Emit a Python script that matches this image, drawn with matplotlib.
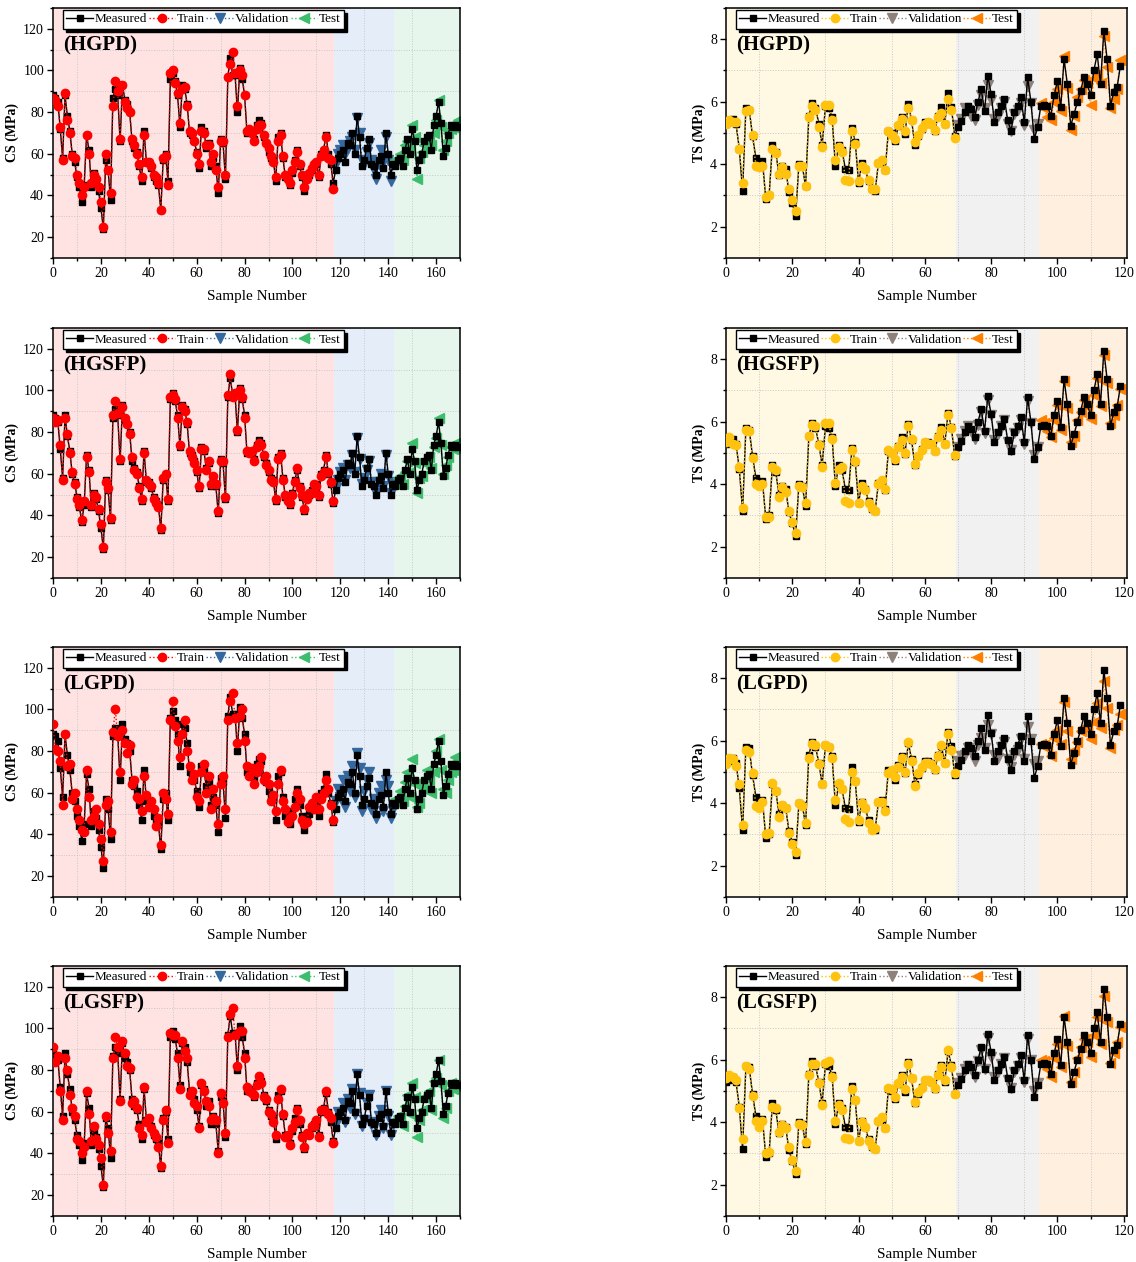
import matplotlib
matplotlib.use("Agg")
import matplotlib.pyplot as plt
from matplotlib.ticker import MultipleLocator
import numpy as np

plt.rcParams['font.family'] = ['Liberation Serif', 'DejaVu Serif']

# ---------------- CS data (170 samples: 118 train / 25 val / 27 test) ----------------
cs_measured = [
    88, 87, 85, 72, 58, 88, 78, 71, 60, 56,
    49, 44, 37, 45, 69, 62, 44, 51, 48, 42,
    34, 24, 57, 52, 38, 87, 91, 88, 66, 93,
    86, 84, 80, 66, 63, 61, 54, 47, 71, 56,
    56, 53, 49, 47, 45, 33, 57, 60, 47, 96,
    99, 95, 88, 73, 93, 91, 84, 70, 69, 66,
    61, 53, 73, 71, 63, 65, 54, 58, 54, 41,
    67, 65, 48, 97, 106, 98, 98, 80, 101, 96,
    88, 70, 71, 70, 67, 74, 76, 75, 68, 65,
    61, 58, 57, 47, 68, 70, 58, 49, 48, 45,
    51, 57, 62, 54, 49, 42, 49, 50, 52, 54,
    55, 49, 60, 62, 69, 60, 55, 46,
    52, 58, 60, 62, 56, 65, 64, 70, 60, 78,
    68, 54, 57, 63, 67, 55, 54, 50, 57, 59,
    53, 70, 60, 50, 55,
    54, 57, 58, 54, 62, 67, 60, 72, 66, 52,
    57, 60, 66, 68, 69, 62, 74, 78, 85, 75,
    59, 63, 69, 74, 73, 74, 73,
]
cs_n_train = 118
cs_n_val = 25

cs_hgpd = [
    87, 86, 83, 73, 57, 89, 76, 70, 59, 58,
    50, 46, 40, 44, 69, 60, 46, 50, 48, 44,
    37, 25, 60, 52, 41, 83, 95, 90, 67, 93,
    85, 82, 80, 67, 64, 60, 55, 49, 69, 56,
    56, 54, 50, 49, 46, 33, 58, 59, 45, 99,
    100, 94, 89, 75, 91, 92, 83, 71, 70, 66,
    60, 55, 71, 70, 64, 64, 56, 60, 52, 44,
    66, 66, 50, 97, 103, 109, 99, 83, 100, 98,
    88, 71, 72, 70, 66, 72, 74, 74, 69, 65,
    63, 59, 56, 49, 66, 69, 59, 50, 48, 46,
    52, 56, 61, 55, 50, 44, 48, 51, 53, 55,
    56, 50, 59, 62, 68, 58, 57, 43,
    55, 60, 62, 64, 60, 63, 66, 68, 62, 77,
    70, 57, 55, 61, 65, 57, 52, 48, 55, 62,
    56, 68, 57, 47, 55,
    57, 58, 60, 57, 64, 66, 62, 74, 68, 48,
    58, 61, 64, 66, 67, 64, 70, 76, 86, 73,
    62, 66, 70, 72, 73, 74, 76,
]
cs_hgsfp = [
    87, 85, 86, 74, 57, 87, 79, 70, 61, 55,
    48, 45, 38, 47, 68, 61, 45, 50, 49, 43,
    36, 25, 56, 53, 39, 88, 95, 89, 67, 92,
    87, 84, 79, 68, 62, 60, 53, 48, 70, 57,
    55, 54, 48, 46, 44, 34, 58, 60, 48, 97,
    98, 96, 87, 74, 92, 90, 85, 71, 68, 65,
    62, 54, 72, 72, 62, 66, 55, 59, 55, 42,
    66, 66, 49, 98, 108, 97, 99, 81, 100, 97,
    87, 71, 70, 71, 66, 73, 75, 74, 69, 64,
    62, 57, 56, 48, 67, 69, 57, 50, 47, 46,
    50, 56, 63, 53, 50, 43, 48, 51, 51, 55,
    54, 50, 59, 61, 68, 61, 56, 47,
    53, 57, 61, 63, 57, 64, 63, 69, 61, 77,
    67, 55, 58, 62, 66, 56, 53, 51, 56, 60,
    54, 69, 59, 51, 56,
    55, 58, 59, 55, 61, 66, 61, 75, 65, 51,
    58, 59, 65, 67, 68, 63, 73, 77, 87, 74,
    60, 64, 68, 73, 72, 75, 72,
]
cs_lgpd = [
    93, 81, 80, 75, 54, 88, 73, 74, 57, 60,
    52, 47, 42, 41, 71, 58, 47, 49, 52, 45,
    38, 27, 54, 56, 41, 89, 100, 87, 70, 90,
    84, 79, 83, 64, 66, 58, 57, 51, 68, 59,
    53, 56, 52, 44, 48, 35, 60, 57, 50, 95,
    104, 92, 85, 77, 88, 95, 80, 73, 66, 69,
    58, 56, 70, 74, 60, 68, 52, 62, 56, 45,
    64, 68, 52, 95, 104, 108, 96, 84, 97, 100,
    85, 73, 68, 72, 64, 70, 73, 77, 66, 68,
    64, 56, 59, 51, 64, 71, 56, 52, 46, 48,
    49, 53, 60, 57, 47, 45, 46, 53, 55, 52,
    58, 52, 57, 60, 66, 62, 54, 47,
    56, 62, 58, 66, 53, 68, 61, 73, 58, 79,
    72, 51, 61, 66, 70, 52, 57, 48, 60, 63,
    51, 66, 63, 48, 52,
    57, 55, 61, 56, 65, 70, 58, 76, 64, 53,
    55, 63, 62, 71, 66, 60, 70, 80, 86, 71,
    62, 60, 66, 70, 71, 77, 75,
]
cs_lgsfp = [
    91, 84, 87, 70, 56, 86, 80, 68, 62, 58,
    47, 46, 40, 43, 70, 59, 46, 53, 47, 44,
    38, 25, 58, 50, 41, 86, 96, 91, 65, 94,
    88, 82, 81, 64, 65, 62, 52, 49, 72, 55,
    57, 52, 50, 48, 43, 34, 56, 61, 45, 98,
    97, 97, 86, 71, 94, 89, 86, 68, 70, 64,
    63, 52, 74, 70, 65, 63, 56, 57, 56, 40,
    69, 64, 50, 96, 107, 110, 97, 82, 99, 99,
    86, 72, 70, 69, 68, 73, 77, 74, 67, 66,
    60, 59, 55, 49, 66, 71, 59, 48, 49, 44,
    52, 55, 61, 56, 48, 43, 50, 49, 53, 53,
    56, 48, 61, 61, 70, 59, 57, 45,
    54, 60, 59, 64, 55, 66, 62, 71, 59, 78,
    69, 53, 56, 64, 68, 54, 55, 49, 58, 61,
    52, 70, 58, 49, 54,
    56, 58, 57, 53, 63, 68, 59, 74, 67, 48,
    56, 61, 67, 66, 70, 61, 75, 76, 85, 73,
    57, 62, 70, 74, 71, 73, 72,
]

# ---------------- TS data (120 samples: 70 train / 25 val / 25 test) ----------------
ts_measured = [
    5.30, 5.35, 5.45, 5.30, 4.50, 3.15, 5.80, 5.75, 4.90, 4.20,
    4.05, 4.10, 2.90, 3.00, 4.60, 4.40, 3.65, 3.95, 3.85, 3.10,
    2.75, 2.35, 4.00, 3.95, 3.30, 5.55, 5.95, 5.80, 5.30, 4.60,
    5.85, 5.80, 5.50, 3.95, 4.60, 4.45, 3.85, 3.80, 5.15, 4.70,
    3.40, 4.05, 3.85, 3.45, 3.20, 3.15, 4.05, 4.10, 3.80, 5.07,
    5.00, 4.75, 5.23, 5.50, 4.97, 5.93, 5.40, 4.60, 4.90, 5.13,
    5.34, 5.34, 5.29, 5.07, 5.55, 5.82, 5.29, 6.28, 5.82, 4.90,
    5.18, 5.39, 5.66, 5.87, 5.77, 5.50, 5.98, 6.40, 5.70, 6.83,
    6.24, 5.34, 5.66, 5.87, 6.10, 5.40, 5.07, 5.66, 5.87, 6.14,
    5.34, 6.78, 6.00, 4.80, 5.18,
    5.87, 5.90, 5.87, 5.55, 6.20, 6.67, 5.82, 7.36, 6.56, 5.23,
    5.60, 5.98, 6.35, 6.78, 6.56, 6.20, 7.00, 7.52, 6.56, 8.27,
    7.36, 5.87, 6.30, 6.46, 7.15,
]
ts_n_train = 70
ts_n_val = 25

ts_hgpd = [
    5.28, 5.40, 5.35, 5.35, 4.50, 3.40, 5.70, 5.72, 4.95, 3.95,
    3.90, 3.95, 2.95, 3.00, 4.50, 4.35, 3.70, 3.90, 3.70, 3.20,
    2.85, 2.50, 3.95, 3.95, 3.30, 5.50, 5.85, 5.75, 5.20, 4.55,
    5.90, 5.90, 5.40, 4.15, 4.55, 4.40, 3.50, 3.45, 5.05, 4.65,
    3.45, 3.95, 3.85, 3.50, 3.20, 3.20, 4.05, 4.15, 3.80, 5.05,
    4.95, 4.80, 5.25, 5.45, 5.05, 5.80, 5.40, 4.70, 4.95, 5.15,
    5.30, 5.35, 5.30, 5.10, 5.50, 5.65, 5.30, 6.10, 5.75, 4.85,
    5.25, 5.45, 5.80, 5.75, 5.55, 5.40, 5.90, 6.20, 5.80, 6.55,
    6.05, 5.45, 5.55, 5.80, 6.00, 5.30, 5.05, 5.60, 5.75, 5.95,
    5.25, 6.50, 5.95, 5.10, 5.30,
    5.95, 5.80, 5.50, 5.40, 6.00, 6.40, 5.70, 7.45, 6.45, 5.10,
    5.55, 6.15, 6.40, 6.70, 6.60, 5.90, 6.75, 6.90, 6.60, 8.10,
    7.10, 5.80, 6.10, 6.40, 7.35,
]
ts_hgsfp = [
    5.35, 5.50, 5.30, 5.25, 4.55, 3.25, 5.75, 5.70, 4.85, 4.00,
    3.95, 4.00, 2.95, 2.95, 4.55, 4.45, 3.60, 3.90, 3.75, 3.15,
    2.80, 2.45, 3.95, 3.90, 3.40, 5.55, 5.90, 5.85, 5.25, 4.55,
    5.95, 5.95, 5.45, 4.05, 4.50, 4.55, 3.45, 3.40, 5.10, 4.75,
    3.40, 3.95, 3.80, 3.40, 3.25, 3.15, 4.00, 4.15, 3.85, 5.10,
    5.00, 4.80, 5.20, 5.40, 5.00, 5.85, 5.45, 4.65, 4.90, 5.10,
    5.35, 5.30, 5.30, 5.05, 5.50, 5.75, 5.30, 6.20, 5.80, 4.95,
    5.20, 5.45, 5.70, 5.85, 5.70, 5.45, 5.90, 6.30, 5.65, 6.70,
    6.20, 5.40, 5.60, 5.85, 6.05, 5.35, 5.10, 5.65, 5.80, 6.05,
    5.30, 6.65, 5.95, 4.95, 5.20,
    6.05, 5.95, 5.70, 5.50, 6.05, 6.55, 5.75, 7.30, 6.45, 5.35,
    5.55, 6.05, 6.30, 6.70, 6.50, 6.10, 6.85, 7.40, 6.50, 8.15,
    7.25, 5.95, 6.20, 6.55, 7.05,
]
ts_lgpd = [
    5.25, 5.45, 5.40, 5.20, 4.60, 3.30, 5.70, 5.65, 4.95, 3.90,
    3.85, 4.05, 3.00, 3.05, 4.65, 4.40, 3.55, 3.95, 3.85, 3.05,
    2.70, 2.45, 4.00, 3.90, 3.35, 5.45, 5.90, 5.85, 5.25, 4.60,
    5.85, 5.80, 5.45, 4.10, 4.65, 4.45, 3.50, 3.40, 5.00, 4.70,
    3.45, 4.00, 3.85, 3.35, 3.15, 3.20, 4.05, 4.05, 3.75, 4.95,
    5.05, 4.85, 5.15, 5.45, 5.00, 5.95, 5.35, 4.55, 4.95, 5.15,
    5.30, 5.30, 5.25, 5.10, 5.50, 5.85, 5.30, 6.20, 5.70, 4.95,
    5.35, 5.50, 5.55, 5.75, 5.65, 5.35, 5.85, 6.10, 5.75, 6.50,
    6.20, 5.55, 5.45, 5.80, 5.95, 5.40, 5.15, 5.55, 5.70, 6.05,
    5.40, 6.45, 6.05, 5.25, 5.35,
    5.90, 5.85, 5.75, 5.50, 6.10, 6.35, 5.90, 7.25, 6.30, 5.40,
    5.70, 5.95, 6.30, 6.45, 6.45, 6.05, 6.60, 7.20, 6.40, 7.90,
    7.05, 5.75, 6.35, 6.50, 6.85,
]
ts_lgsfp = [
    5.40, 5.50, 5.45, 5.35, 4.45, 3.45, 5.80, 5.70, 4.85, 4.05,
    3.85, 4.05, 3.00, 3.05, 4.50, 4.45, 3.70, 3.90, 3.80, 3.20,
    2.80, 2.45, 3.95, 3.90, 3.35, 5.50, 5.85, 5.85, 5.25, 4.55,
    5.90, 5.95, 5.45, 4.05, 4.55, 4.40, 3.50, 3.45, 5.05, 4.70,
    3.40, 4.00, 3.85, 3.40, 3.25, 3.15, 4.05, 4.15, 3.80, 5.10,
    5.05, 4.80, 5.25, 5.45, 5.05, 5.85, 5.40, 4.65, 4.95, 5.10,
    5.35, 5.35, 5.30, 5.10, 5.50, 5.75, 5.35, 6.30, 5.75, 4.90,
    5.25, 5.40, 5.70, 5.80, 5.70, 5.45, 5.95, 6.30, 5.70, 6.70,
    6.10, 5.45, 5.60, 5.85, 6.05, 5.35, 5.10, 5.60, 5.80, 6.05,
    5.30, 6.65, 6.00, 5.00, 5.25,
    6.00, 5.95, 5.70, 5.45, 6.05, 6.50, 5.75, 7.40, 6.45, 5.30,
    5.60, 6.05, 6.40, 6.65, 6.55, 6.10, 6.80, 7.35, 6.50, 8.05,
    7.20, 5.90, 6.20, 6.55, 7.05,
]

model_names = ["HGPD", "HGSFP", "LGPD", "LGSFP"]
cs_preds = [cs_hgpd, cs_hgsfp, cs_lgpd, cs_lgsfp]
ts_preds = [ts_hgpd, ts_hgsfp, ts_lgpd, ts_lgsfp]

cs_style = dict(spans=['#FFE2E2', '#E5EDF8', '#E7F6EC'],
                colors=['#FF0000', '#35689F', '#3DBE6C'],
                ylim=(10, 130), xlim=(0, 170), ymaj=20, ymin=10, ylabel='CS (MPa)')
ts_style = dict(spans=['#FFF8E3', '#F1F1F1', '#FFEFDF'],
                colors=['#FFC20E', '#8E817B', '#FF8000'],
                ylim=(1, 9), xlim=(0, 121), ymaj=2, ymin=1, ylabel='TS (MPa)')


def draw_panel(ax, measured, pred, n_train, n_val, st, name):
    n = len(measured)
    x = np.arange(n)
    i1, i2 = n_train, n_train + n_val
    b1, b2 = i1 - 0.5, i2 - 0.5
    ax.axvspan(st['xlim'][0], b1, color=st['spans'][0], lw=0, zorder=0)
    ax.axvspan(b1, b2, color=st['spans'][1], lw=0, zorder=0)
    ax.axvspan(b2, st['xlim'][1], color=st['spans'][2], lw=0, zorder=0)

    pred = np.asarray(pred)
    c_tr, c_va, c_te = st['colors']
    ax.plot(x[i1:i2], pred[i1:i2], ls=':', lw=1, color=c_va, marker='v', ms=7,
            label='Validation', zorder=2)
    ax.plot(x[i2:], pred[i2:], ls=':', lw=1, color=c_te, marker='<', ms=7,
            label='Test', zorder=2)
    ax.plot(x, measured, ls='-', lw=1, color='black', marker='s', ms=5,
            label='Measured', zorder=3)
    ax.plot(x[:i1], pred[:i1], ls=':', lw=1, color=c_tr, marker='o', ms=6,
            label='Train', zorder=4)

    ax.set_xlim(*st['xlim'])
    ax.set_ylim(*st['ylim'])
    ax.xaxis.set_major_locator(MultipleLocator(20))
    ax.xaxis.set_minor_locator(MultipleLocator(10))
    ax.yaxis.set_major_locator(MultipleLocator(st['ymaj']))
    ax.yaxis.set_minor_locator(MultipleLocator(st['ymin']))
    ax.tick_params(which='both', direction='out', labelsize=10, width=1, pad=2.5)
    ax.tick_params(which='major', length=4)
    ax.tick_params(which='minor', length=2.5)
    ax.grid(which='minor', ls=':', lw=0.7, color='#C8C8C8')
    for sp in ax.spines.values():
        sp.set_linewidth(1.1)

    ax.set_xlabel('Sample Number', fontsize=11, labelpad=7)
    ax.set_ylabel(st['ylabel'], fontsize=10, fontweight='bold', labelpad=3)
    ax.text(0.025, 0.85, f'({name})', transform=ax.transAxes, fontsize=15,
            fontweight='bold', va='center', ha='left', zorder=6)

    h, l = ax.get_legend_handles_labels()
    order = [l.index(k) for k in ['Measured', 'Train', 'Validation', 'Test']]
    leg = ax.legend([h[i] for i in order], [l[i] for i in order], ncol=4,
                    loc='upper left', bbox_to_anchor=(0.02, 1.0), borderaxespad=0.15,
                    fontsize=9.5, frameon=True, fancybox=False, edgecolor='black',
                    shadow={'color': 'black', 'alpha': 1}, handlelength=2.0,
                    handletextpad=0.15, columnspacing=0.1, borderpad=0.25)
    leg.get_frame().set_linewidth(1)
    leg.set_zorder(7)


fig = plt.figure(figsize=(11.36, 12.62), dpi=100)
bottoms = [0.7956, 0.5420, 0.2893, 0.0365]
for r, name in enumerate(model_names):
    axl = fig.add_axes([0.0467, bottoms[r], 0.3583, 0.1981])
    draw_panel(axl, cs_measured, cs_preds[r], cs_n_train, cs_n_val, cs_style, name)
    axr = fig.add_axes([0.6391, bottoms[r], 0.3530, 0.1981])
    draw_panel(axr, ts_measured, ts_preds[r], ts_n_train, ts_n_val, ts_style, name)

fig.savefig('out.png', dpi=100)
